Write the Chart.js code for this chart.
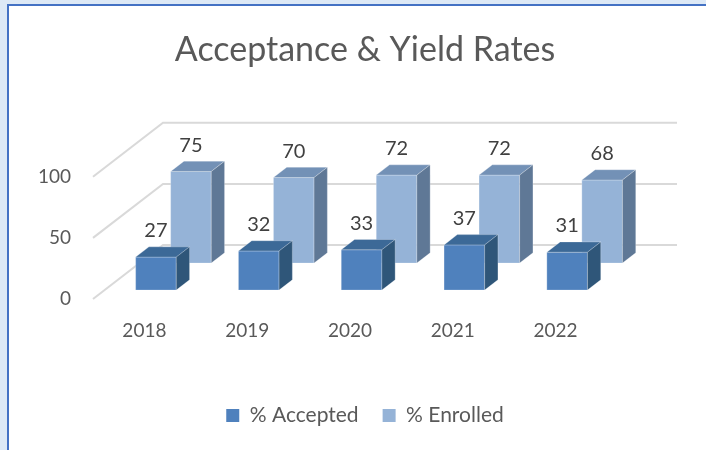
<!DOCTYPE html>
<html>
<head>
<meta charset="utf-8">
<script src="https://cdn.jsdelivr.net/npm/chart.js@4.4.1/dist/chart.umd.min.js"></script>
<style>
  html, body { margin: 0; padding: 0; background: #fff; }
  canvas { display: block; }
</style>
</head>
<body>
<canvas id="rates-chart" width="706" height="450"></canvas>
<script>
const years = ['2018', '2019', '2020', '2021', '2022'];
const accepted = [27, 32, 33, 37, 31];
const enrolled = [75, 70, 72, 72, 68];
const yTicks = [0, 50, 100];

const FONT = 'Lato, "Open Sans", sans-serif';

// depth of the 3D floor in px, and where each series row sits along it (0..1)
const DEPTH_X = 70, DEPTH_Y = -54;
const THICK = 0.19;
const rows = [
    { front: '#4F81BD', top: '#3C6997', side: '#2F5679', depth: 0.165 },
    { front: '#95B3D7', top: '#7391B6', side: '#5F7896', depth: 0.665 }
];

const frame = {
    id: 'frame',
    beforeDraw(chart) {
        const { ctx, width, height } = chart;
        ctx.save();
        ctx.fillStyle = '#DDE9F6';
        ctx.fillRect(0, 0, width, height);
        ctx.fillStyle = '#FFFFFF';
        ctx.fillRect(7, 4, width - 7, height - 4);
        ctx.fillStyle = '#4472C4';
        ctx.fillRect(7, 4, 2, height - 4);
        ctx.fillRect(7, 4, width - 7, 2);
        ctx.restore();
    }
};

const poly = (ctx, pts, fill) => {
    ctx.beginPath();
    ctx.moveTo(pts[0][0], pts[0][1]);
    pts.slice(1).forEach(p => ctx.lineTo(p[0], p[1]));
    ctx.closePath();
    ctx.fillStyle = fill;
    ctx.fill();
    ctx.stroke();
};

const bars3d = {
    id: 'bars3d',
    beforeDatasetsDraw(chart) {
        const { ctx, chartArea } = chart;
        const y = chart.scales.y;
        ctx.save();

        // floor edge + back wall gridlines
        ctx.strokeStyle = '#D9D9D9';
        ctx.lineWidth = 2;
        y.ticks.forEach(t => {
            const py = y.getPixelForValue(t.value);
            ctx.beginPath();
            ctx.moveTo(chartArea.left, py);
            ctx.lineTo(chartArea.left + DEPTH_X, py + DEPTH_Y);
            ctx.lineTo(chartArea.right + DEPTH_X, py + DEPTH_Y);
            ctx.stroke();
        });

        const tx = THICK * DEPTH_X, ty = THICK * DEPTH_Y;
        const labels = [];
        ctx.lineWidth = 1;
        ctx.strokeStyle = 'rgba(255,255,255,0.25)';

        // back row first so the front row covers it
        for (let di = chart.data.datasets.length - 1; di >= 0; di--) {
            const meta = chart.getDatasetMeta(di);
            const row = rows[di];
            const ox = row.depth * DEPTH_X, oy = row.depth * DEPTH_Y;
            meta.data.forEach((bar, i) => {
                const l = bar.x - bar.width / 2 + ox;
                const r = bar.x + bar.width / 2 + ox;
                const top = bar.y + oy;
                const base = bar.base + oy;
                poly(ctx, [[l, top], [r, top], [r, base], [l, base]], row.front);
                poly(ctx, [[l, top], [r, top], [r + tx, top + ty], [l + tx, top + ty]], row.top);
                poly(ctx, [[r, top], [r + tx, top + ty], [r + tx, base + ty], [r, base]], row.side);
                labels.push({ text: chart.data.datasets[di].data[i], x: (l + r) / 2, y: top + ty - 16 });
            });
        }

        ctx.fillStyle = '#404040';
        ctx.font = `20px ${FONT}`;
        ctx.textAlign = 'center';
        ctx.textBaseline = 'middle';
        labels.forEach(lb => ctx.fillText(lb.text, lb.x, lb.y));
        ctx.restore();
        return false;
    }
};

new Chart(document.getElementById('rates-chart'), {
    type: 'bar',
    data: {
        labels: years,
        datasets: [
            { label: '% Accepted', data: accepted, backgroundColor: rows[0].front, borderWidth: 0 },
            { label: '% Enrolled', data: enrolled, backgroundColor: rows[1].front, borderWidth: 0 }
        ]
    },
    options: {
        responsive: false,
        animation: false,
        layout: { padding: { left: 24, right: 0, top: 0, bottom: 14 } },
        datasets: {
            bar: { grouped: false, categoryPercentage: 1, barPercentage: 0.395 }
        },
        plugins: {
            title: {
                display: true,
                text: 'Acceptance & Yield Rates',
                color: '#595959',
                font: { family: FONT, size: 34, weight: 'normal' },
                padding: { top: 30, bottom: 106 }
            },
            legend: {
                position: 'bottom',
                labels: {
                    boxWidth: 13,
                    boxHeight: 13,
                    padding: 24,
                    color: '#595959',
                    font: { family: FONT, size: 21 }
                }
            },
            tooltip: { enabled: false }
        },
        scales: {
            x: {
                grid: { display: false, drawTicks: false },
                border: { display: false },
                ticks: { color: '#595959', padding: 20, font: { family: FONT, size: 19 } },
                afterFit: s => { s.height = 82; }
            },
            y: {
                min: 0,
                max: 100,
                afterBuildTicks: s => { s.ticks = yTicks.map(v => ({ value: v })); },
                grid: { display: false, drawTicks: false },
                border: { display: false },
                ticks: { color: '#595959', padding: 22, font: { family: FONT, size: 19 } },
                afterFit: s => { s.width = 69; }
            },
            // empty spacer on the right: room for the 3D depth of the floor
            depth: {
                position: 'right',
                grid: { display: false, drawTicks: false },
                border: { display: false },
                ticks: { display: false },
                afterFit: s => { s.width = 99; }
            }
        }
    },
    plugins: [frame, bars3d]
});
</script>
</body>
</html>
